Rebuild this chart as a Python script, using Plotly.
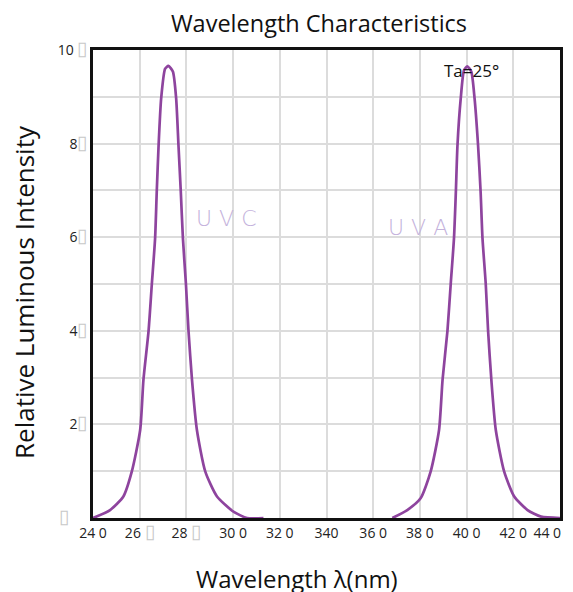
import plotly.graph_objects as go

# ---- data ----
uvc_nm = [240, 247.3, 253, 256.6, 260.2, 261.6, 263.8, 265.2, 266.6, 267.3, 268.1, 269.2, 270.9, 272.3,
          274.2, 275.6, 276.6, 277.6, 278.5, 279.8, 280.9, 282.4, 284.5, 288.1, 293.1, 300.3, 306, 313]
uvc_val = [0, 1.7, 4.6, 9.9, 18.8, 29.5, 40, 50, 59.8, 69.7, 79.7, 89.7, 96, 96.6,
           95.4, 89.7, 79.7, 69.7, 59.8, 50, 40, 29.5, 18.8, 9.9, 4.6, 1.3, 0, 0]

uva_nm = [368.2, 374.6, 380.3, 384.6, 388.2, 389.7, 391.8, 393.2, 394.6, 395.4, 396.1, 397.5, 398.9, 400.3,
          402, 403.4, 404.9, 406, 406.8, 408.2, 409.2, 410.6, 412.5, 416.1, 420.4, 426.1, 431.9, 440]
uva_val = [0, 1.7, 4.2, 9.9, 18.8, 29.5, 40, 50, 59.8, 69.7, 79.7, 89.7, 95.7, 96.5,
           95.4, 89.7, 79.7, 69.7, 59.8, 50, 40, 29.5, 18.8, 9.9, 4.6, 1.7, 0.3, 0]

BOX = "<span style='color:#c8c8c8;font-size:19px'>\u25AF</span>"
x_tickvals = [240, 260, 280, 300, 320, 340, 360, 380, 400, 420, 440]
x_ticktext = ["24 0", "26 " + BOX, "28 " + BOX, "30 0", "32 0", "340", "36 0", "38 0", "40 0", "42 0",
              "44 0" + "\u00a0" * 7]
y_tickvals = [0, 20, 40, 60, 80, 100]
y_ticktext = [BOX + "\u00a0\u00a0\u00a0\u00a0\u00a0", "2" + BOX, "4" + BOX, "6" + BOX, "8" + BOX, "10 " + BOX]

title_text = "Wavelength Characteristics"
x_title = "Wavelength \u03bb(nm)"
y_title = "Relative Luminous Intensity"

LINE = "#8E449E"
LABEL = "#c4b2dc"

W, H = 573, 592          # figure size; the page body adds an 8px offset
ML, MR, MT, MB = 85, 21, 42, 82
PW, PH = W - ML - MR, H - MT - MB

fig = go.Figure()
fig.add_trace(go.Scatter(x=uvc_nm, y=uvc_val, mode="lines",
                         line=dict(color=LINE, width=2.7, shape="spline", smoothing=0.6),
                         showlegend=False))
fig.add_trace(go.Scatter(x=uva_nm, y=uva_val, mode="lines",
                         line=dict(color=LINE, width=2.7, shape="spline", smoothing=0.6),
                         showlegend=False))

fig.add_annotation(x=297, y=64, text="U V C", showarrow=False,
                   font=dict(family="DejaVu Sans", size=22, color=LABEL, weight=200))
fig.add_annotation(x=379, y=62, text="U V A", showarrow=False,
                   font=dict(family="DejaVu Sans", size=22, color=LABEL, weight=200))
fig.add_annotation(x=402.3, y=95.7, text="Ta=25\u00b0", showarrow=False,
                   font=dict(family="Open Sans", size=17, color="#111"))

# axis titles placed in paper coordinates
fig.add_annotation(xref="paper", yref="paper",
                   x=(297 - 8 - ML) / PW, y=-(578 - 8 - (H - MB)) / PH,
                   text=x_title, showarrow=False, xanchor="center", yanchor="middle",
                   font=dict(family="Open Sans", size=24, color="#111"))
fig.add_annotation(xref="paper", yref="paper",
                   x=-(ML - (24 - 8)) / PW, y=1 - (292 - 8 - MT) / PH,
                   text=y_title, showarrow=False, textangle=-90, xanchor="center", yanchor="middle",
                   font=dict(family="Open Sans", size=26, color="#111"))

fig.update_layout(
    width=W, height=H,
    margin=dict(l=ML, r=MR, t=MT, b=MB),
    paper_bgcolor="white", plot_bgcolor="white",
    title=dict(text=title_text, x=(319 - 8) / W, xanchor="center", y=1 - (24 - 8) / H, yanchor="middle",
               font=dict(family="Open Sans", size=23.5, color="#111")),
    font=dict(family="Open Sans", color="#222"),
)
fig.update_xaxes(
    range=[240, 440], tickmode="array", tickvals=x_tickvals, ticktext=x_ticktext,
    showgrid=True, gridcolor="#dcdcdc", gridwidth=1.5,
    showline=True, linecolor="#111", linewidth=2.5, mirror=True, automargin=False,
    ticklabeloverflow="allow",
    ticks="", tickfont=dict(size=14, color="#222"), zeroline=False,
)
fig.update_yaxes(
    range=[0, 100], tickmode="array", tickvals=y_tickvals, ticktext=y_ticktext,
    showgrid=True, gridcolor="#dcdcdc", gridwidth=1.5,
    minor=dict(tickvals=[10, 30, 50, 70, 90], showgrid=True, gridcolor="#dcdcdc", gridwidth=1.5),
    showline=True, linecolor="#111", linewidth=2.5, mirror=True, automargin=False,
    ticklabeloverflow="allow",
    ticks="", tickfont=dict(size=14, color="#222"), zeroline=False,
)

fig.write_html("out.html")
